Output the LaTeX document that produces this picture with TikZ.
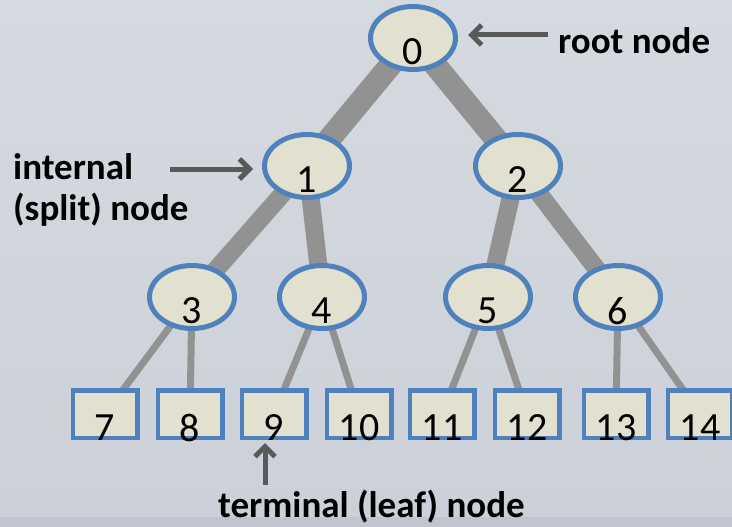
\documentclass[tikz,border=0pt]{standalone}
\usepackage{fontspec}
\setmainfont{Carlito}
\usetikzlibrary{shapes.geometric,arrows.meta,backgrounds}

\definecolor{bgtop}{RGB}{213,218,224}
\definecolor{bgbottom}{RGB}{204,209,217}
\definecolor{bgband}{RGB}{192,197,208}
\definecolor{nodeblue}{RGB}{79,129,189}
\definecolor{nodefill}{RGB}{226,224,206}
\definecolor{edgegray}{RGB}{146,146,146}
\definecolor{arrowgray}{RGB}{89,89,89}

\pgfdeclarelayer{edges}
\pgfsetlayers{background,edges,main}

\begin{document}
\begin{tikzpicture}[x=1pt,y=-1pt]
    \tikzstyle{split}=[ellipse,line width=5pt,draw=nodeblue,fill=nodefill,minimum width=85pt,minimum height=63pt,inner sep=0pt]
    \tikzstyle{leaf}=[rectangle,line width=4.5pt,draw=nodeblue,fill=nodefill,minimum width=64.5pt,minimum height=47.5pt,inner sep=0pt]
    \tikzstyle{digit}=[font=\fontsize{40}{40}\selectfont,inner sep=0pt,yshift=-14pt]
    \tikzstyle{trunk}=[draw=edgegray,line width=23pt]
    \tikzstyle{branch}=[draw=edgegray,line width=18pt]
    \tikzstyle{twig}=[draw=edgegray,line width=7pt]
    \tikzstyle{tag}=[font=\fontsize{37}{41}\selectfont\bfseries,inner sep=0pt]
    \tikzstyle{pointer}=[draw=arrowgray,line width=5pt,-{Straight Barb[length=10pt,width=20pt]}]
    \useasboundingbox (0,0) rectangle (732,527);
    % background
    \begin{pgfonlayer}{background}
        \shade[top color=bgtop,bottom color=bgbottom] (0,0) rectangle (732,517);
        \fill[bgband] (0,517) rectangle (732,527);
    \end{pgfonlayer}
    % split nodes
    \node (n0)[split,label={[digit]center:0}] at (413,38) {};
    \node (n1)[split,label={[digit]center:1}] at (307,166) {};
    \node (n2)[split,label={[digit]center:2}] at (518,166) {};
    \node (n3)[split,label={[digit]center:3}] at (192,297) {};
    \node (n4)[split,label={[digit]center:4}] at (322,297) {};
    \node (n5)[split,label={[digit]center:5}] at (488,297) {};
    \node (n6)[split,label={[digit]center:6}] at (618,297) {};
    % leaves
    \node (n7)[leaf,label={[digit]center:7}] at (105,414) {};
    \node (n8)[leaf,label={[digit]center:8}] at (190,414) {};
    \node (n9)[leaf,label={[digit]center:9}] at (274,414) {};
    \node (n10)[leaf,label={[digit]center:10}] at (359,414) {};
    \node (n11)[leaf,label={[digit]center:11}] at (442,414) {};
    \node (n12)[leaf,label={[digit]center:12}] at (527,414) {};
    \node (n13)[leaf,label={[digit]center:13}] at (616,414) {};
    \node (n14)[leaf,label={[digit]center:14}] at (700,414) {};
    % edges behind the nodes
    \begin{pgfonlayer}{edges}
        \draw[trunk] (n0.center) -- (n1.center);
        \draw[trunk] (n0.center) -- (n2.center);
        \draw[branch] (n1.center) -- (n3.center);
        \draw[branch] (n1.center) -- (n4.center);
        \draw[branch] (n2.center) -- (n5.center);
        \draw[branch] (n2.center) -- (n6.center);
        \draw[twig] (n3.center) -- (n7.center);
        \draw[twig] (n3.center) -- (n8.center);
        \draw[twig] (n4.center) -- (n9.center);
        \draw[twig] (n4.center) -- (n10.center);
        \draw[twig] (n5.center) -- (n11.center);
        \draw[twig] (n5.center) -- (n12.center);
        \draw[twig] (n6.center) -- (n13.center);
        \draw[twig] (n6.center) -- (n14.center);
    \end{pgfonlayer}
    % labels and pointers
    \node (rootlbl)[tag,anchor=base west] at (558,54) {root node};
    \node (splitlbl)[tag,anchor=base west,align=left] at (13,220) {internal\\(split) node};
    \node (leaflbl)[tag,anchor=base west] at (218,517) {terminal (leaf) node};
    \coordinate (rootarrow) at (548,35);
    \coordinate (splitarrow) at (170,169);
    \coordinate (leafarrow) at (265,485);
    \draw[pointer,shorten >=10pt] (rootarrow) -- (rootarrow -| n0.east);
    \draw[pointer,shorten >=9pt] (splitarrow) -- (splitarrow -| n1.west);
    \draw[pointer,shorten >=3pt] (leafarrow) -- (leafarrow |- n9.south);
\end{tikzpicture}
\end{document}
